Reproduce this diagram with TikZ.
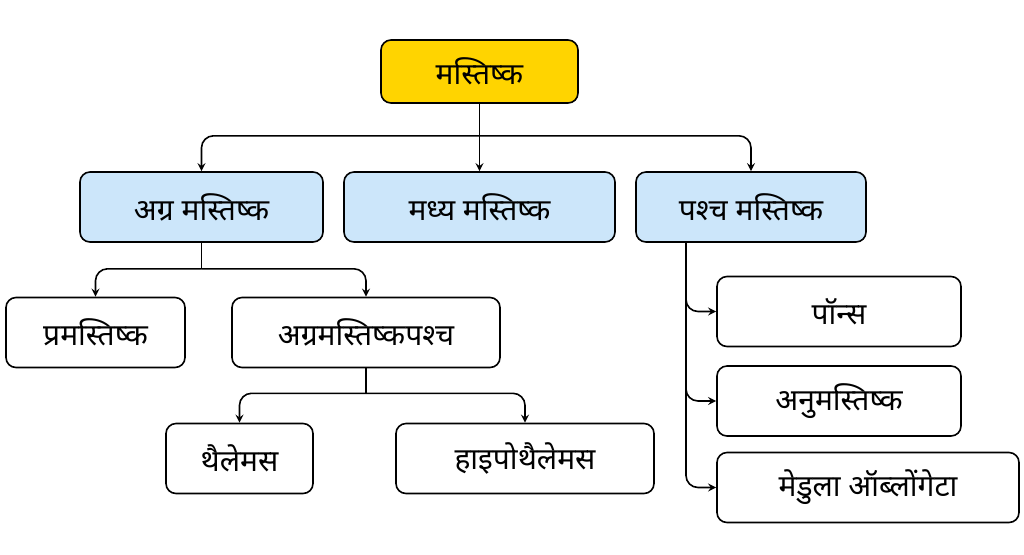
\documentclass[tikz,border=0pt]{standalone}
\usepackage{fontspec}
\newfontfamily\deva[Script=Devanagari]{Noto Sans}
\usetikzlibrary{calc}
\definecolor{rootgold}{HTML}{FFD400}
\definecolor{lvlblue}{HTML}{CCE6FA}
\tikzset{
    box/.style={draw, line width=0.8pt, rounded corners=5pt, minimum height=35pt,
        font=\deva\bfseries\fontsize{15}{18}\selectfont, inner sep=0pt},
    conn/.style={line width=0.8pt, rounded corners=6pt},
    arr/.style={conn, -stealth}
}
\begin{document}
\begin{tikzpicture}[x=0.5pt,y=-0.5pt]
    \useasboundingbox (0,0) rectangle (1024,554);
    % top level
    \node[box, fill=rootgold, minimum width=98.5pt, minimum height=31.5pt] (root) at (479.5,71.5) {मस्तिष्क};
    % second level
    \node[box, fill=lvlblue, minimum width=121.5pt] (agra) at (201.5,207) {अग्र मस्तिष्क};
    \node[box, fill=lvlblue, minimum width=135.5pt] (madhya) at (479.5,207) {मध्य मस्तिष्क};
    \node[box, fill=lvlblue, minimum width=115pt] (pashch) at (751,207) {पश्च मस्तिष्क};
    % fore brain children
    \node[box, minimum width=89.5pt] (pram) at (95.5,332.5) {प्रमस्तिष्क};
    \node[box, minimum width=134pt] (agrap) at (366,332.5) {अग्रमस्तिष्कपश्च};
    \node[box, minimum width=73.5pt] (thal) at (239.5,458.5) {थैलेमस};
    \node[box, minimum width=129pt] (hypo) at (525,458.5) {हाइपोथैलेमस};
    % hind brain children
    \node[box, minimum width=122pt] (pons) at (839,311.5) {पॉन्स};
    \node[box, minimum width=122pt] (anu) at (839,401) {अनुमस्तिष्क};
    \node[box, minimum width=151pt] (medu) at (868,487.5) {मेडुला ऑब्लोंगेटा};

    % Draw connectors
    \draw[conn] (root.south) -- ++(0,32) coordinate (rj);
    \draw[arr] (rj) -| (agra.north);
    \draw[arr] (rj) -- (madhya.north);
    \draw[arr] (rj) -| (pashch.north);

    \draw[conn] (agra.south) -- ++(0,26) coordinate (aj);
    \draw[arr] (aj) -| (pram.north);
    \draw[arr] (aj) -| (agrap.north);

    \draw[conn] (agrap.south) -- ++(0,25) coordinate (gj);
    \draw[arr] (gj) -| (thal.north);
    \draw[arr] (gj) -| (hypo.north);

    \coordinate (pj) at ($(pashch.south)+(-65,0)$);
    \draw[arr] (pj) |- (pons.west);
    \draw[arr] (pj) |- (anu.west);
    \draw[arr] (pj) |- (medu.west);
\end{tikzpicture}
\end{document}
